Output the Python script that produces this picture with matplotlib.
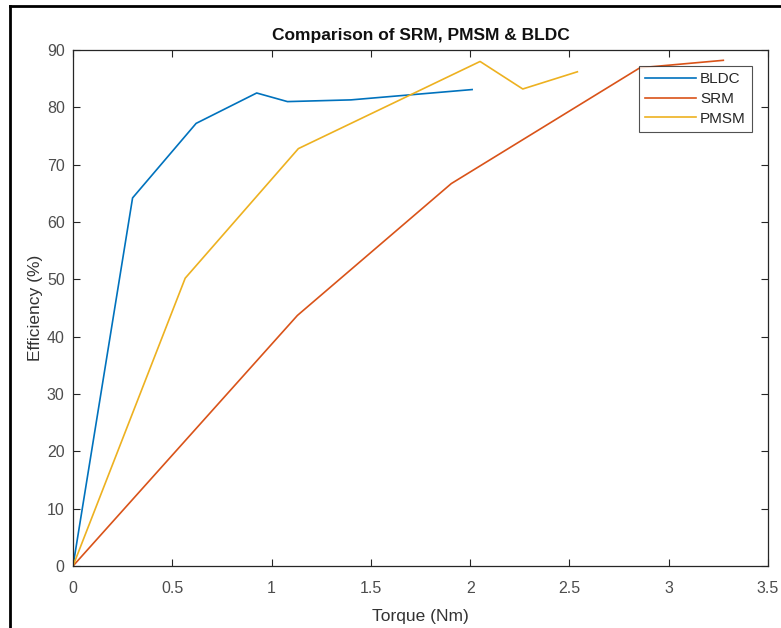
import matplotlib
matplotlib.use('Agg')
import matplotlib.pyplot as plt
from matplotlib.lines import Line2D

# data
bldc_torque = [0, 0.30, 0.62, 0.925, 1.08, 1.40, 2.01]
bldc_eff = [0, 64.2, 77.2, 82.5, 81.0, 81.3, 83.1]

srm_torque = [0, 1.13, 1.905, 2.855, 3.275]
srm_eff = [0, 43.7, 66.7, 86.9, 88.2]

pmsm_torque = [0, 0.565, 1.135, 2.05, 2.265, 2.54]
pmsm_eff = [0, 50.2, 72.8, 88.0, 83.2, 86.2]

x_ticks = [0, 0.5, 1, 1.5, 2, 2.5, 3, 3.5]
x_labels = ['0', '0.5', '1', '1.5', '2', '2.5', '3', '3.5']
y_ticks = [0, 10, 20, 30, 40, 50, 60, 70, 80, 90]

plt.rcParams['font.family'] = ['Liberation Sans', 'DejaVu Sans']

fig = plt.figure(figsize=(7.81, 6.28), dpi=100)
ax = fig.add_axes([73/781, 1 - 566/628, (768 - 73)/781, (566 - 50)/628])

ax.plot(bldc_torque, bldc_eff, color='#0072BD', lw=1.2, label='BLDC')
ax.plot(srm_torque, srm_eff, color='#D95319', lw=1.2, label='SRM')
ax.plot(pmsm_torque, pmsm_eff, color='#EDB120', lw=1.2, label='PMSM')

ax.set_xlim(0, 3.5)
ax.set_ylim(0, 90)
ax.set_xticks(x_ticks)
ax.set_xticklabels(x_labels)
ax.set_yticks(y_ticks)
ax.tick_params(direction='in', top=True, right=True, length=5, width=0.8,
               colors='#262626', labelsize=11.5, labelcolor='#4d4d4d')
ax.tick_params(axis='x', pad=11)
ax.tick_params(axis='y', pad=6)
for s in ax.spines.values():
    s.set_color('#262626')
    s.set_linewidth(0.9)

ax.set_title('Comparison of SRM, PMSM & BLDC', fontsize=12.5, fontweight='bold',
             color='#111111', pad=7)
ax.set_xlabel('Torque (Nm)', fontsize=12.5, color='#333333', labelpad=9)
ax.set_ylabel('Efficiency (%)', fontsize=12.5, color='#333333', labelpad=3)

leg = ax.legend(loc='upper right', bbox_to_anchor=(1 - 16/695, 1 - 16/516),
                fontsize=11, frameon=True, fancybox=False, handlelength=3.3,
                handletextpad=0.3, borderpad=0.4, labelspacing=0.38,
                borderaxespad=0)
leg.get_frame().set_edgecolor('#262626')
leg.get_frame().set_linewidth(0.8)
for t in leg.get_texts():
    t.set_color('#262626')

# outer frame on the top and left edges
fig.add_artist(Line2D([10/781, 1], [1 - 6/628, 1 - 6/628], color='black', lw=2,
                      transform=fig.transFigure))
fig.add_artist(Line2D([10/781, 10/781], [0, 1 - 6/628], color='black', lw=2,
                      transform=fig.transFigure))

fig.savefig('out.png', dpi=100)
